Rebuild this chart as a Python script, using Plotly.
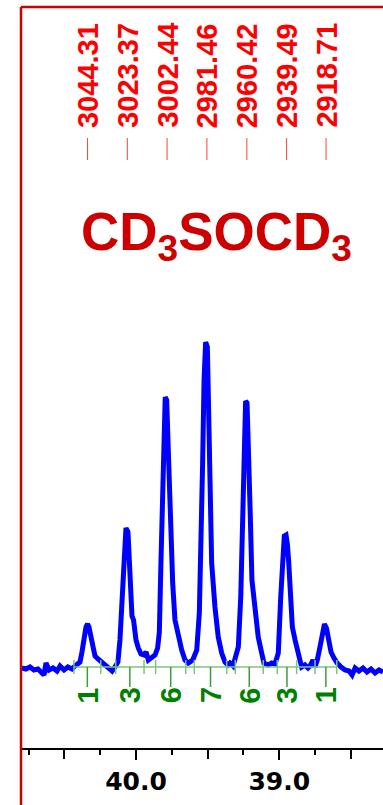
import plotly.graph_objects as go

# ---------------- data ----------------
ppm = [40.796, 40.768, 40.740, 40.712, 40.684, 40.656, 40.642, 40.628, 40.607, 40.579,
       40.551, 40.530, 40.502, 40.475, 40.447, 40.426,
       40.405, 40.391, 40.377, 40.363, 40.349, 40.338, 40.328, 40.314, 40.300, 40.286,
       40.265, 40.237, 40.209, 40.188, 40.167, 40.147, 40.126, 40.112, 40.100, 40.091,
       40.080, 40.070, 40.056, 40.047, 40.037, 40.028, 40.017, 40.000, 39.984, 39.965,
       39.944, 39.930, 39.914, 39.890, 39.867, 39.849, 39.837, 39.826, 39.814, 39.805,
       39.796, 39.786, 39.779, 39.768, 39.756, 39.744, 39.728, 39.705, 39.681, 39.658,
       39.635, 39.604, 39.576, 39.558, 39.546, 39.535, 39.525, 39.514, 39.502, 39.495,
       39.484, 39.472, 39.449, 39.426, 39.402, 39.379, 39.358, 39.344, 39.323, 39.309,
       39.286, 39.269, 39.255, 39.246, 39.235, 39.225, 39.214, 39.203, 39.191, 39.170,
       39.147, 39.123, 39.107, 39.077, 39.053, 39.030, 39.007, 38.990, 38.976, 38.965,
       38.953, 38.943, 38.934, 38.925, 38.909, 38.890, 38.867, 38.844, 38.821, 38.800,
       38.786, 38.765, 38.751, 38.735, 38.716, 38.697, 38.685, 38.671, 38.657, 38.639,
       38.618, 38.597, 38.569, 38.541, 38.513, 38.492, 38.471, 38.444, 38.416, 38.388,
       38.360, 38.332, 38.304, 38.276]
intensity = [-1, -2, 0, -3, -2, -5, -8, 4, -3, -1,
             -4, 1, -3, 0, -2, 1,
             3, 5, 15, 29, 40, 43, 40, 30, 17, 11,
             8, 5, 2, -1, -4, 0, 5, 27, 57, 97,
             127, 139, 135, 102, 55, 51, 47, 27, 19, 13,
             12, 15, 7, 10, 12, 19, 35, 104, 187, 244,
             270, 267, 230, 170, 120, 84, 47, 30, 17, 7,
             4, 7, 17, 54, 120, 204, 287, 325, 320, 270,
             170, 104, 60, 30, 14, 5, 2, 4, 1, 9,
             20, 70, 154, 227, 266, 264, 220, 154, 87, 54,
             30, 14, 4, 2, 4, 3, 14, 70, 114, 131,
             132, 122, 104, 70, 40, 27, 14, 0, 2, -1,
             1, 7, 0, 7, 20, 34, 43, 39, 25, 15,
             9, 4, 0, -3, -4, -8, -1, -4, -1, -5,
             -2, -6, -3, -5]

peak_hz = [3044.31, 3023.37, 3002.44, 2981.46, 2960.42, 2939.49, 2918.71]
spectrometer_mhz = 75.47

integral_left = [40.433, 40.142, 39.863, 39.593, 39.307, 39.014, 38.751]
integral_right = [40.246, 39.944, 39.653, 39.367, 39.112, 38.879, 38.599]
integral_values = [1, 3, 6, 7, 6, 3, 1]

x_label_vals = [40.0, 39.0]
x_label_text = ["40.0", "39.0"]
x_half_vals = [40.5, 39.5, 38.5]
x_minor_vals = [40.75, 40.25, 39.75, 39.25, 38.75]

compound = "CD<sub>3</sub>SOCD<sub>3</sub>"

# ---------------- layout helpers ----------------
W, H = 383, 805
PLOT_TOP, PLOT_BOTTOM = 7, 748
X_RANGE = [40.8025, 38.2763]


def py(p):
    return (PLOT_BOTTOM - p) / (PLOT_BOTTOM - PLOT_TOP)


fig = go.Figure()
fig.add_trace(go.Scatter(x=ppm, y=intensity, mode="lines",
                         line=dict(color="#0000FF", width=5),
                         hoverinfo="skip", showlegend=False))
# invisible trace to activate the secondary (unlabelled major tick) axis
fig.add_trace(go.Scatter(x=[ppm[0]], y=[intensity[0]], xaxis="x2", mode="markers",
                         marker=dict(opacity=0), hoverinfo="skip", showlegend=False))

shapes = []
annotations = []

# peak frequency labels (Hz) with small red markers
for hz in peak_hz:
    xp = hz / spectrometer_mhz
    annotations.append(dict(x=xp, xref="x", y=py(130), yref="paper",
                            text=f"{hz:.2f}", textangle=-90, showarrow=False,
                            xanchor="center", yanchor="bottom",
                            font=dict(family="Liberation Sans, Arial", size=29,
                                      color="#FF0000", weight="bold")))
    shapes.append(dict(type="line", xref="x", yref="paper", x0=xp, x1=xp,
                       y0=py(160), y1=py(138),
                       line=dict(color="#FF4040", width=1)))

# compound title
annotations.append(dict(x=(216.5 - 21) / (W - 21), xref="paper", y=py(200), yref="paper",
                        text=compound, showarrow=False, xanchor="center", yanchor="top",
                        font=dict(family="Liberation Sans, Arial", size=53,
                                  color="#CC0000", weight="bold")))

# integration marks
shapes.append(dict(type="line", xref="x", yref="y", x0=integral_left[0], x1=integral_right[-1],
                   y0=0, y1=0, line=dict(color="#7CC47C", width=1.5)))
for xl, xr, val in zip(integral_left, integral_right, integral_values):
    for xe in (xl, xr):
        shapes.append(dict(type="line", xref="x", yref="y", x0=xe, x1=xe, y0=-7, y1=7,
                           line=dict(color="#7CC47C", width=1.5)))
    xc = (xl + xr) / 2
    shapes.append(dict(type="line", xref="x", yref="y", x0=xc, x1=xc, y0=0, y1=-20,
                       line=dict(color="#3C9C3C", width=1.5)))
    annotations.append(dict(x=xc, xref="x", y=py(695.5), yref="paper", text=str(val),
                            textangle=-90, showarrow=False, xanchor="center", yanchor="middle",
                            font=dict(family="Liberation Sans, Arial", size=29,
                                      color="#008000", weight="bold")))

# red frame
shapes.append(dict(type="line", xref="paper", yref="paper", x0=0, x1=0, y0=py(H + 5), y1=1,
                   line=dict(color="#CC0000", width=2.5), layer="above"))
shapes.append(dict(type="line", xref="paper", yref="paper", x0=0, x1=1.05, y0=1, y1=1,
                   line=dict(color="#CC0000", width=2.5), layer="above"))

fig.update_layout(
    width=W, height=H,
    margin=dict(l=21, r=0, t=PLOT_TOP, b=H - PLOT_BOTTOM, pad=0),
    paper_bgcolor="white", plot_bgcolor="white",
    showlegend=False,
    shapes=shapes, annotations=annotations,
    xaxis=dict(range=X_RANGE, showgrid=False, zeroline=False,
               showline=True, linecolor="black", linewidth=1.5,
               tickmode="array", tickvals=x_label_vals, ticktext=x_label_text,
               ticks="outside", ticklen=10, tickwidth=1.5, tickcolor="black",
               tickfont=dict(family="DejaVu Sans", size=25, color="black", weight="bold"),
               minor=dict(tickvals=x_minor_vals, ticks="outside", ticklen=5,
                          tickwidth=1.5, tickcolor="black", showgrid=False)),
    xaxis2=dict(range=X_RANGE, overlaying="x", side="bottom", anchor="y",
                showgrid=False, zeroline=False, showline=False,
                tickmode="array", tickvals=x_half_vals, showticklabels=False,
                ticks="outside", ticklen=10, tickwidth=1.5, tickcolor="black"),
    yaxis=dict(range=[-81, 660], visible=False, showgrid=False, zeroline=False),
)

fig.write_html("out.html",
               config={"displayModeBar": False},
               post_script="document.body.style.margin='0px';"
                           "document.body.style.overflow='hidden';")
